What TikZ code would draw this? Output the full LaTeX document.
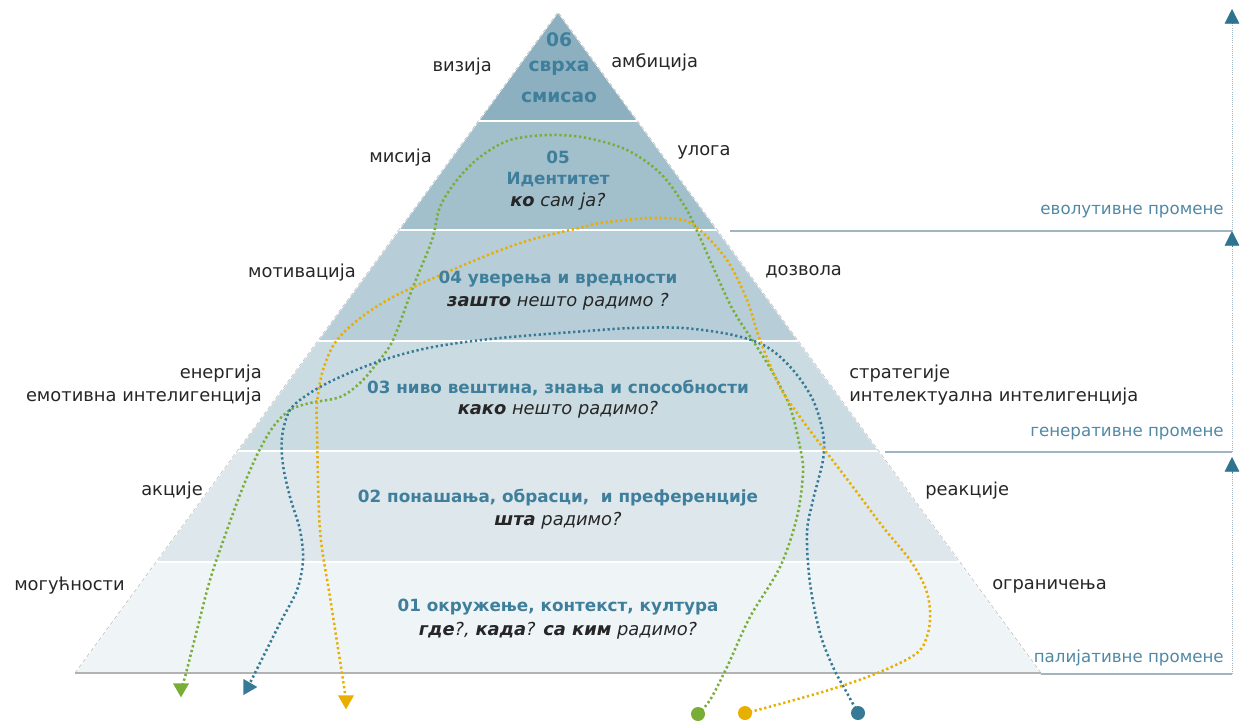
\documentclass[tikz,border=0pt]{standalone}
\usepackage{fontspec}
\setmainfont{DejaVu Sans}
\usetikzlibrary{shapes.geometric,arrows.meta}
\definecolor{tsix}{HTML}{8DB0C1}
\definecolor{tfive}{HTML}{A2BFCC}
\definecolor{tfour}{HTML}{B7CDD7}
\definecolor{tthree}{HTML}{CBDBE2}
\definecolor{ttwo}{HTML}{DDE7EC}
\definecolor{tone}{HTML}{EFF4F6}
\definecolor{titlec}{HTML}{3F7F9B}
\definecolor{labc}{HTML}{262626}
\definecolor{brc}{HTML}{5089A4}
\definecolor{brl}{HTML}{9FB6C2}
\definecolor{gr}{HTML}{78AE36}
\definecolor{bl}{HTML}{377A96}
\definecolor{go}{HTML}{E8AE00}
\definecolor{arr}{HTML}{2F7391}
\begin{document}
\begin{tikzpicture}[x=0.75pt,y=-0.75pt,
  side/.style={font=\fontsize{13.4}{17}\selectfont, text=labc, inner sep=0},
  ttl/.style={font=\fontsize{12.6}{15}\selectfont\bfseries, text=titlec, inner sep=0},
  ttltop/.style={font=\fontsize{14}{15}\selectfont\bfseries, text=titlec, inner sep=0},
  qline/.style={font=\fontsize{13.4}{15}\selectfont\itshape, text=labc, inner sep=0},
  brlab/.style={font=\fontsize{12.5}{14}\selectfont, text=brc, anchor=east, inner sep=0},
  dotline/.style={line width=1.9pt, dash pattern=on 1.7pt off 2pt},
  startdot/.style={circle, minimum size=10.5pt, inner sep=0},
  tipmark/.style={regular polygon, regular polygon sides=3, minimum size=14pt, inner sep=0},
  bracket/.style={brl, line width=0.8pt},
  bracketup/.style={brl, line width=0.6pt, densely dotted},
  uptip/.style={-{Triangle[length=11pt,width=11pt]}, arr}
]
\useasboundingbox (0,0) rectangle (1240,722);
\coordinate (apex) at (558,12);
\coordinate (bl) at (75,673);
\coordinate (br) at (1041,673);
% tiers
\begin{scope}
\clip (apex) -- (br) -- (bl) -- cycle;
\fill[tsix] (0,0) rectangle (1240,121);
\fill[tfive] (0,121) rectangle (1240,230);
\fill[tfour] (0,230) rectangle (1240,341);
\fill[tthree] (0,341) rectangle (1240,451);
\fill[ttwo] (0,451) rectangle (1240,562);
\fill[tone] (0,562) rectangle (1240,673);
\foreach \yy in {121,230,341,451,562} \draw[white, line width=2.2pt] (0,\yy) -- (1240,\yy);
\end{scope}
\draw[white, line width=1pt] (bl) -- (apex) -- (br);
\draw[gray!55, line width=0.4pt, densely dashed] (bl) -- (apex) -- (br);
\draw[gray!60, line width=1.5pt] (bl) -- (br);
% right brackets
\coordinate (b1) at (730,231);
\coordinate (b1r) at (1232,231);
\coordinate (b2) at (885,452);
\coordinate (b2r) at (1232,452);
\coordinate (b3) at (1041,674);
\coordinate (b3r) at (1232,674);
\coordinate (t1) at (1232,9);
\coordinate (t2) at (1232,231);
\coordinate (t3) at (1232,457);
\draw[bracket] (b1) -- (b1r);
\draw[bracket] (b2) -- (b2r);
\draw[bracket] (b3) -- (b3r);
\draw[bracketup] (b1r) -- (1232,22);
\draw[bracketup] (b2r) -- (1232,245);
\draw[bracketup] (b3r) -- (1232,470);
\draw[uptip] (1232,23) -- (t1);
\draw[uptip] (1232,246) -- (t2);
\draw[uptip] (1232,472) -- (t3);
\node[brlab] (ev) at (1224,212) {еволутивне промене};
\node[brlab] (ge) at (1224,434) {генеративне промене};
\node[brlab] (pa) at (1224,658) {палијативне промене};
% start dots and tips
\node[startdot, fill=gr] (gS) at (698,714) {};
\node[startdot, fill=go] (oS) at (745,713) {};
\node[startdot, fill=bl] (bS) at (858,713) {};
\coordinate (gT) at (181,688);
\coordinate (bT) at (248,687);
\coordinate (oT) at (346,700);
% curves
\draw[dotline, gr] plot[smooth, tension=0.55] coordinates {(gS) (710,700) (727,667) (750,617) (780,567) (797,517) (803,473) (800,447) (790,407) (773,373) (757,347) (733,310) (713,267) (698,233) (684,205) (660,173) (627,150) (587,138) (550,135) (510,140) (480,157) (457,180) (440,207) (432,240) (413,287) (393,340) (377,363) (360,383) (340,397) (310,403) (290,410) (273,427) (258,453) (243,487) (227,530) (210,580) (197,630) (185,677) (gT)};
\draw[dotline, bl] plot[smooth, tension=0.55] coordinates {(bS) (847,693) (833,667) (820,633) (810,583) (807,533) (813,500) (823,460) (823,433) (813,400) (793,370) (767,347) (733,335) (683,328) (633,328) (600,330) (500,338) (433,347) (383,360) (340,377) (310,393) (290,410) (282,437) (283,465) (290,497) (300,530) (303,560) (297,590) (280,623) (260,663) (bT)};
\draw[dotline, go] plot[smooth, tension=0.55] coordinates {(oS) (765,708) (829,690) (880,672) (917,653) (928,633) (930,610) (925,587) (910,560) (883,527) (853,487) (827,453) (800,417) (780,387) (760,340) (747,300) (727,260) (700,230) (683,220) (650,218) (600,223) (583,227) (530,240) (483,257) (407,290) (367,313) (337,340) (323,370) (317,403) (317,430) (320,530) (330,597) (343,680) (oT)};
\node[tipmark, fill=gr, shape border rotate=180] (gA) at (gT) {};
\node[tipmark, fill=bl, shape border rotate=-90] (bA) at (bT) {};
\node[tipmark, fill=go, shape border rotate=180] (oA) at (oT) {};
% tier texts
\node[ttltop] (n6a) at (559,40) {06};
\node[ttltop] (n6b) at (559,68) {сврха};
\node[ttltop] (n6c) at (559,97) {смисао};
\node[ttl] (n5a) at (558,157) {05};
\node[ttl] (n5b) at (558,180) {Идентитет};
\node[qline] (n5c) at (558,202) {\textbf{ко} сам ја?};
\node[ttl] (n4a) at (558,279) {04 уверења и вредности};
\node[qline] (n4b) at (558,302) {\textbf{зашто} нешто радимо ?};
\node[ttl] (n3a) at (558,388) {03 ниво вештина, знања и способности};
\node[qline] (n3b) at (558,410) {\textbf{како} нешто радимо?};
\node[ttl] (n2a) at (558,498) {02 понашања, обрасци,\ \ и преференције};
\node[qline] (n2b) at (558,521) {\textbf{шта} радимо?};
\node[ttl] (n1a) at (558,607) {01 окружење, контекст, култура};
\node[qline] (n1b) at (558,631) {\textbf{где}?, \textbf{када}? \textbf{са ким} радимо?};
% side labels
\node[side, anchor=east] (l6) at (492,67) {визија};
\node[side, anchor=west] (r6) at (611,62) {амбиција};
\node[side, anchor=east] (l5) at (432,158) {мисија};
\node[side, anchor=west] (r5) at (677,152) {улога};
\node[side, anchor=east] (l4) at (356,273) {мотивација};
\node[side, anchor=west] (r4) at (765,272) {дозвола};
\node[side, anchor=east, align=right] (l3) at (262,385) {енергија\\емотивна интелигенција};
\node[side, anchor=west, align=left] (r3) at (849,385) {стратегије\\интелектуална интелигенција};
\node[side, anchor=east] (l2) at (203,491) {акције};
\node[side, anchor=west] (r2) at (925,491) {реакције};
\node[side, anchor=east] (l1) at (125,586) {могућности};
\node[side, anchor=west] (r1) at (992,586) {ограничења};
\end{tikzpicture}
\end{document}
